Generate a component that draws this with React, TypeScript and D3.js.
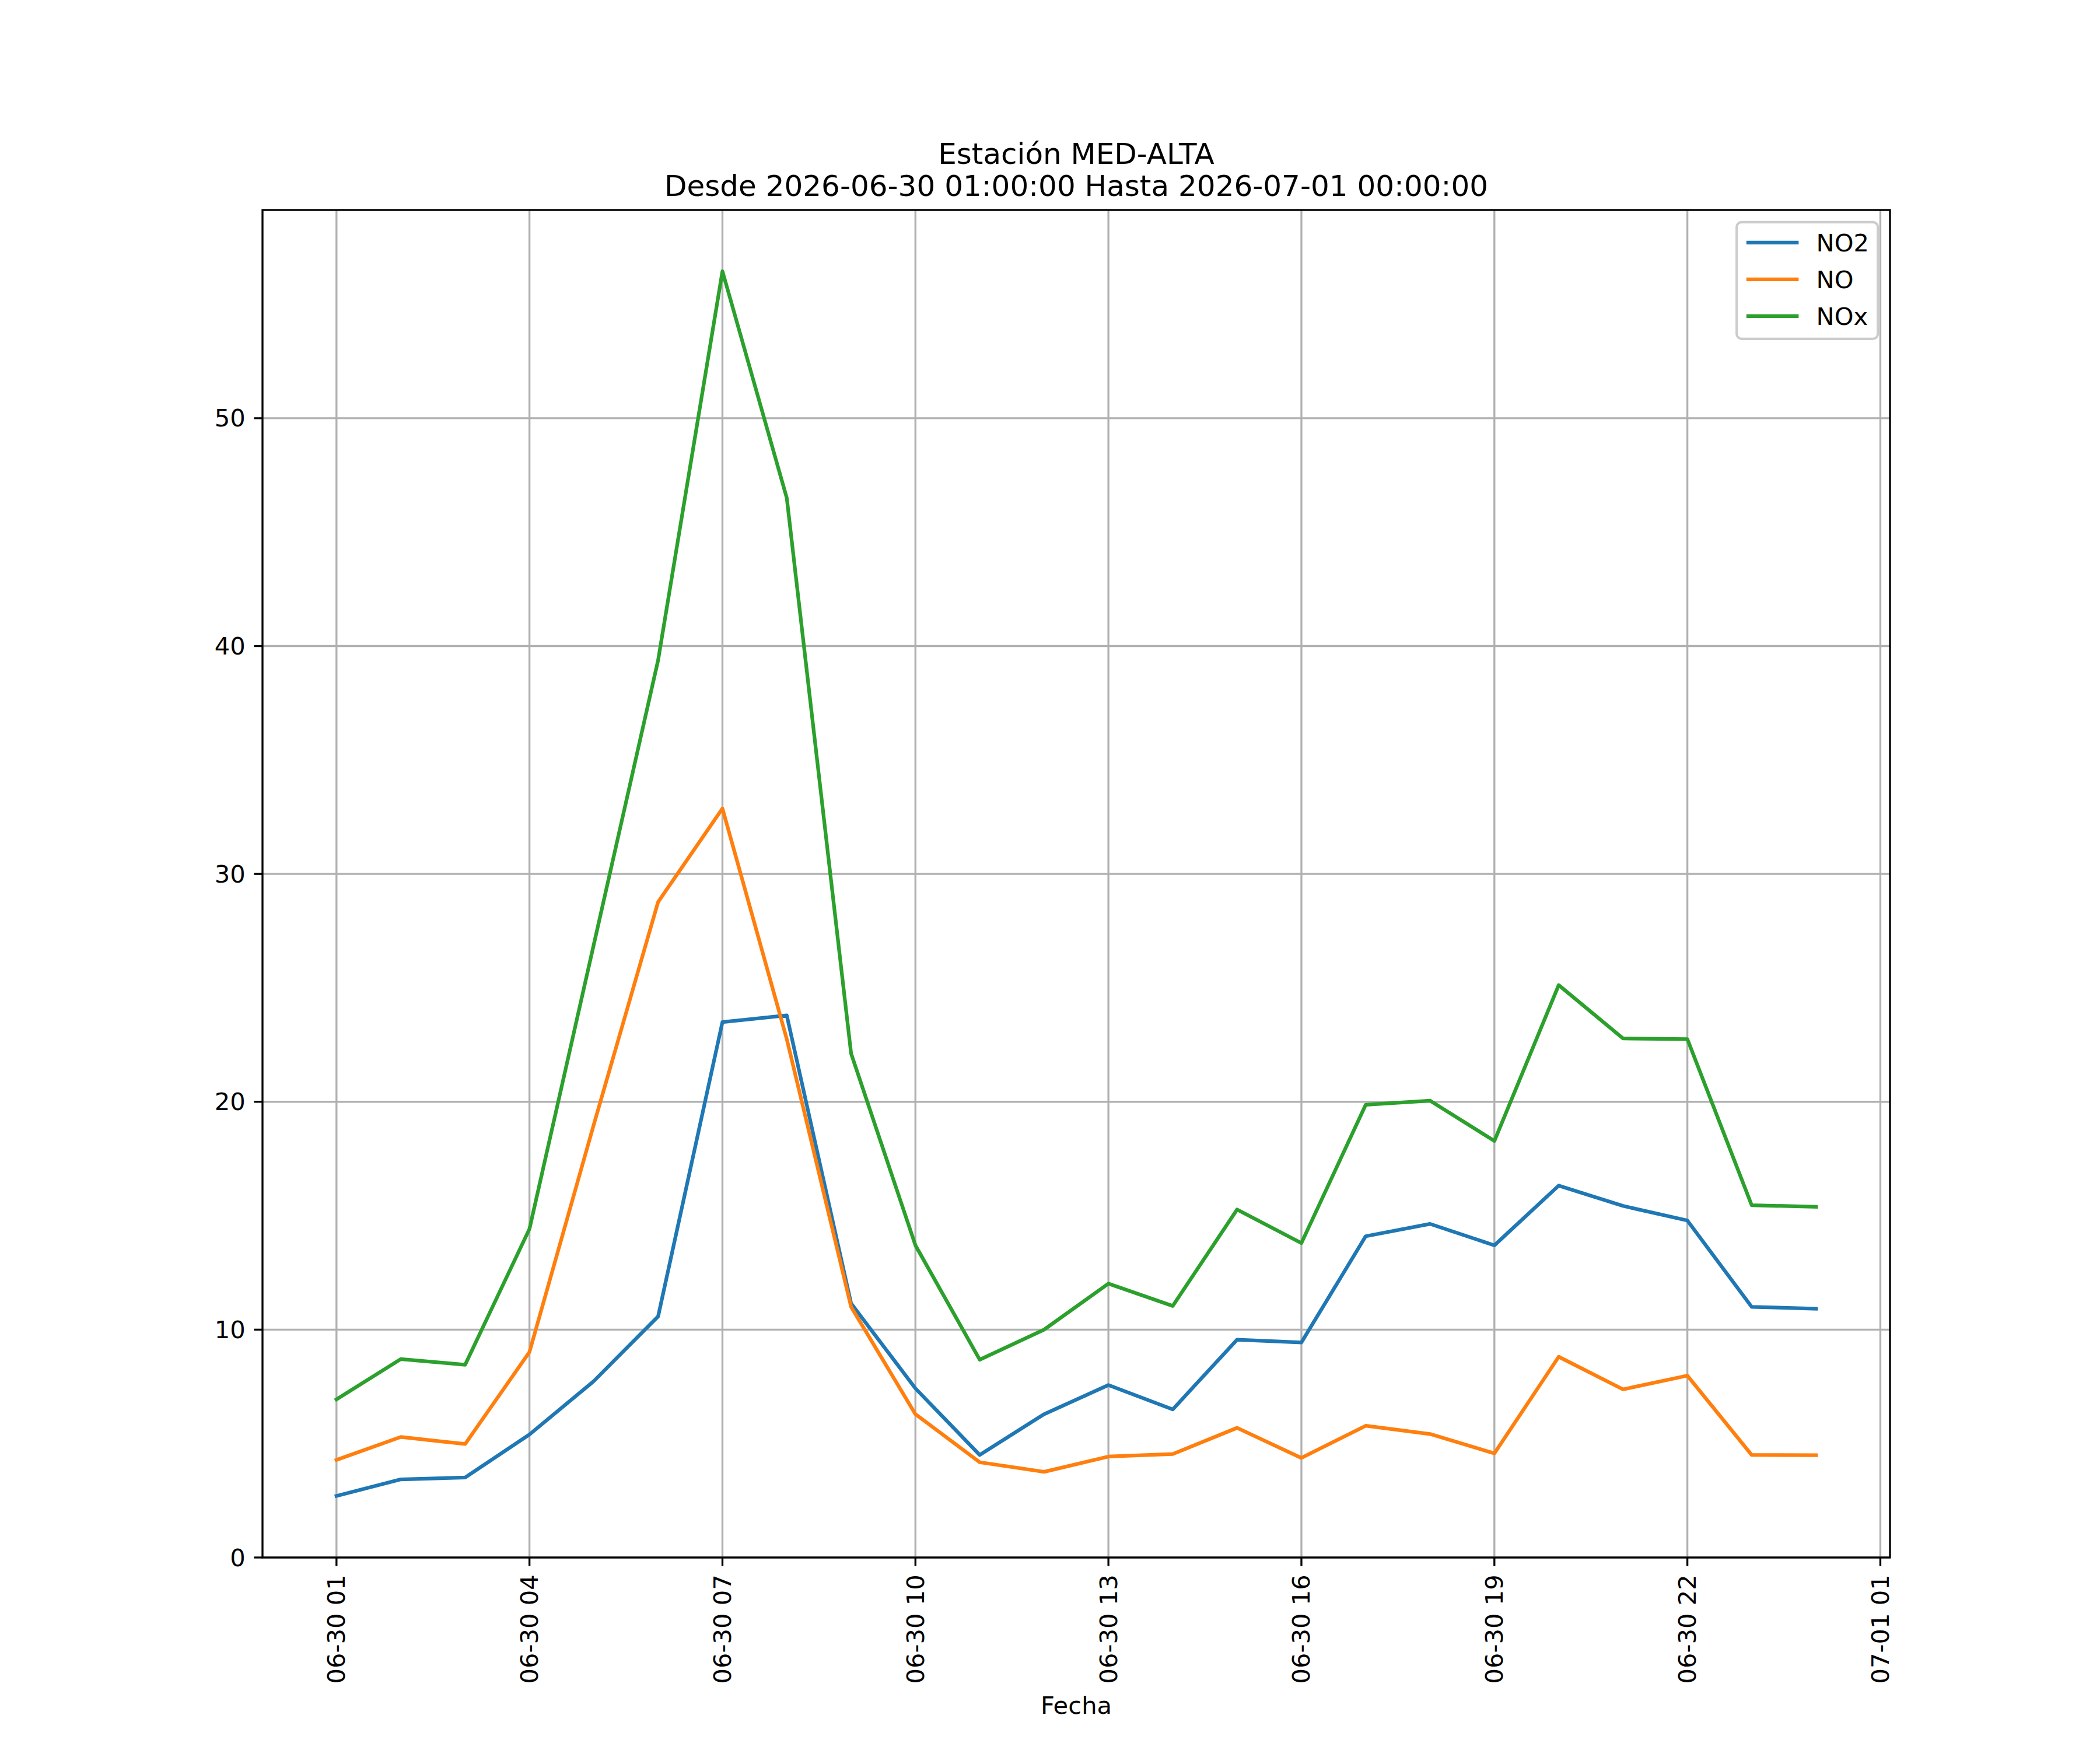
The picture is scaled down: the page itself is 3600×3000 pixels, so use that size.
import React from "react";
import * as d3 from "d3";

const times: Date[] = [
  "2026-06-30T01:00:00Z", "2026-06-30T02:00:00Z", "2026-06-30T03:00:00Z", "2026-06-30T04:00:00Z",
  "2026-06-30T05:00:00Z", "2026-06-30T06:00:00Z", "2026-06-30T07:00:00Z", "2026-06-30T08:00:00Z",
  "2026-06-30T09:00:00Z", "2026-06-30T10:00:00Z", "2026-06-30T11:00:00Z", "2026-06-30T12:00:00Z",
  "2026-06-30T13:00:00Z", "2026-06-30T14:00:00Z", "2026-06-30T15:00:00Z", "2026-06-30T16:00:00Z",
  "2026-06-30T17:00:00Z", "2026-06-30T18:00:00Z", "2026-06-30T19:00:00Z", "2026-06-30T20:00:00Z",
  "2026-06-30T21:00:00Z", "2026-06-30T22:00:00Z", "2026-06-30T23:00:00Z", "2026-07-01T00:00:00Z",
].map((s) => new Date(s));

const no2: number[] = [2.70, 3.43, 3.51, 5.40, 7.74, 10.58, 23.50, 23.79, 11.15, 7.42, 4.50, 6.29, 7.57, 6.50, 9.56, 9.44, 14.10, 14.64, 13.70, 16.32, 15.43, 14.79, 11.00, 10.92];
const no: number[] = [4.28, 5.29, 4.98, 9.02, 19.0, 28.77, 32.87, 22.75, 11.0, 6.29, 4.18, 3.76, 4.43, 4.54, 5.69, 4.37, 5.78, 5.42, 4.57, 8.81, 7.38, 7.98, 4.50, 4.49];
const nox: number[] = [6.94, 8.71, 8.46, 14.42, 26.9, 39.38, 56.45, 46.5, 22.12, 13.70, 8.68, 10.0, 12.02, 11.04, 15.27, 13.80, 19.87, 20.05, 18.28, 25.12, 22.78, 22.75, 15.46, 15.39];

const seriesNames: string[] = ["NO2", "NO", "NOx"];
const seriesColors: string[] = ["#1f77b4", "#ff7f0e", "#2ca02c"];

const xTickTimes: Date[] = [
  "2026-06-30T01:00:00Z", "2026-06-30T04:00:00Z", "2026-06-30T07:00:00Z", "2026-06-30T10:00:00Z",
  "2026-06-30T13:00:00Z", "2026-06-30T16:00:00Z", "2026-06-30T19:00:00Z", "2026-06-30T22:00:00Z",
  "2026-07-01T01:00:00Z",
].map((s) => new Date(s));
const yTicks: number[] = [0, 10, 20, 30, 40, 50];

const titleLines: string[] = ["Estación MED-ALTA", "Desde 2026-06-30 01:00:00 Hasta 2026-07-01 00:00:00"];
const xLabel = "Fecha";

const W = 3600;
const H = 3000;
const PT = 300 / 72;
const FS = 10 * PT;
const left = 450, right = 3240, top = 360, bottom = 2670;
const FONT = "DejaVu Sans";

export default function App() {
  const all = [...no2, ...no, ...nox];
  const dmin = d3.min(all)!;
  const dmax = d3.max(all)!;
  const t0 = times[0].getTime();
  const t1 = times[times.length - 1].getTime();
  const span = t1 - t0;
  const x = d3.scaleUtc().domain([new Date(t0 - 0.05 * span), new Date(t1 + 0.05 * span)]).range([left, right]);
  const y = d3.scaleLinear().domain([0, dmax + 0.05 * (dmax - dmin)]).range([bottom, top]);
  const fmt = d3.utcFormat("%m-%d %H");
  const series = [no2, no, nox];
  const line = d3.line<number>().x((_, i) => x(times[i])).y((v) => y(v));

  const tickLen = 3.5 * PT;
  const tickPad = 3.5 * PT;
  const lw = 0.8 * PT;

  // legend geometry
  const legRight = right - 0.5 * FS;
  const legTop = top + 0.5 * FS;
  const legW = 242;
  const legH = 200;
  const legLeft = legRight - legW;
  const rowY = (i: number) => legTop + 35 + i * 63;
  const handleX0 = legLeft + 0.4 * FS + 3.1;
  const handleX1 = handleX0 + 2 * FS;

  return (
    <svg width={W} height={H} viewBox={`0 0 ${W} ${H}`} style={{ position: "absolute", left: 0, top: 0, background: "#fff" }} fontFamily={FONT}>
      <rect x={0} y={0} width={W} height={H} fill="#fff" />
      {/* grid */}
      <g stroke="#b0b0b0" strokeWidth={lw}>
        {xTickTimes.map((t, i) => (
          <line key={"gx" + i} x1={x(t)} x2={x(t)} y1={top} y2={bottom} />
        ))}
        {yTicks.map((v, i) => (
          <line key={"gy" + i} x1={left} x2={right} y1={y(v)} y2={y(v)} />
        ))}
      </g>
      {/* series */}
      {series.map((s, k) => (
        <path key={"s" + k} d={line(s) || ""} fill="none" stroke={seriesColors[k]} strokeWidth={1.5 * PT} strokeLinejoin="round" strokeLinecap="square" />
      ))}
      {/* spines */}
      <rect x={left} y={top} width={right - left} height={bottom - top} fill="none" stroke="#000" strokeWidth={lw} />
      {/* y ticks */}
      {yTicks.map((v, i) => (
        <g key={"yt" + i}>
          <line x1={left - tickLen} x2={left} y1={y(v)} y2={y(v)} stroke="#000" strokeWidth={lw} />
          <text x={left - tickLen - tickPad} y={y(v)} textAnchor="end" dominantBaseline="central" fontSize={FS} fill="#000">
            {v}
          </text>
        </g>
      ))}
      {/* x ticks */}
      {xTickTimes.map((t, i) => (
        <g key={"xt" + i}>
          <line x1={x(t)} x2={x(t)} y1={bottom} y2={bottom + tickLen} stroke="#000" strokeWidth={lw} />
          <text
            transform={`translate(${x(t)},${bottom + tickLen + tickPad}) rotate(-90)`}
            textAnchor="end"
            dominantBaseline="central"
            fontSize={FS}
            fill="#000"
          >
            {fmt(t)}
          </text>
        </g>
      ))}
      {/* x label */}
      <text x={(left + right) / 2} y={2938} textAnchor="middle" fontSize={FS} fill="#000">
        {xLabel}
      </text>
      {/* title */}
      {titleLines.map((t, i) => (
        <text key={"t" + i} x={(left + right) / 2} y={336 - (titleLines.length - 1 - i) * 55.5} textAnchor="middle" fontSize={12 * PT} fill="#000">
          {t}
        </text>
      ))}
      {/* legend */}
      <rect x={legLeft} y={legTop} width={legW} height={legH} rx={0.2 * FS} ry={0.2 * FS} fill="#fff" fillOpacity={0.8} stroke="#cccccc" strokeWidth={1 * PT} />
      {seriesNames.map((n, i) => (
        <g key={"l" + i}>
          <line x1={handleX0} x2={handleX1} y1={rowY(i)} y2={rowY(i)} stroke={seriesColors[i]} strokeWidth={1.5 * PT} strokeLinecap="square" />
          <text x={handleX1 + 0.8 * FS} y={rowY(i) + 15} fontSize={FS} fill="#000">
            {n}
          </text>
        </g>
      ))}
    </svg>
  );
}
